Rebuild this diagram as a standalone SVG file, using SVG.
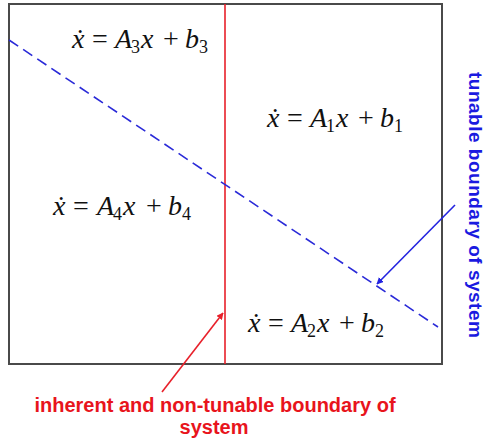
<svg xmlns="http://www.w3.org/2000/svg" width="488" height="445" viewBox="0 0 488 445">
<style>
.eq{font-family:"Liberation Serif","Times New Roman",serif;font-size:28px;fill:#111}
.it{font-style:italic}
.sub{font-size:18px;font-style:normal}
.lab{font-family:"Liberation Sans",Arial,sans-serif;font-weight:bold;font-size:20px}
</style>
<defs>
<marker id="ah-red" viewBox="0 0 10 10" refX="9" refY="5" markerWidth="7" markerHeight="7" orient="auto" markerUnits="userSpaceOnUse">
<path d="M0,0 L10,5 L0,10 z" fill="#e8202a"/>
</marker>
<marker id="ah-blue" viewBox="0 0 10 10" refX="9" refY="5" markerWidth="7" markerHeight="7" orient="auto" markerUnits="userSpaceOnUse">
<path d="M0,0 L10,5 L0,10 z" fill="#2323e0"/>
</marker>
</defs>
<rect width="488" height="445" fill="#fff"/>
<g id="frame">
<rect x="9" y="4" width="433" height="360" fill="none" stroke="#4a4a4a" stroke-width="2"/>
</g>
<g id="connectors">
<line x1="225" y1="4" x2="225" y2="364" stroke="#e8202a" stroke-width="1.6"/>
<line x1="9" y1="40" x2="438" y2="327" stroke="#2a2ad8" stroke-width="1.6" stroke-dasharray="11,6"/>
<line x1="162" y1="392" x2="223" y2="313" stroke="#e8202a" stroke-width="1.6" marker-end="url(#ah-red)"/>
<line x1="455" y1="205" x2="377" y2="284" stroke="#2323e0" stroke-width="1.6" marker-end="url(#ah-blue)"/>
</g>
<g id="region3">
<text class="eq" y="48"><tspan class="it" x="72">ẋ</tspan><tspan x="92">=</tspan><tspan class="it" x="115">A</tspan><tspan class="sub" dx="-1" dy="5">3</tspan><tspan class="it" dx="1" dy="-5">x</tspan><tspan x="163">+</tspan><tspan class="it" x="185">b</tspan><tspan class="sub" dy="5">3</tspan></text>
</g>
<g id="region1">
<text class="eq" y="127"><tspan class="it" x="267">ẋ</tspan><tspan x="287">=</tspan><tspan class="it" x="310">A</tspan><tspan class="sub" dx="-1" dy="5">1</tspan><tspan class="it" dx="1" dy="-5">x</tspan><tspan x="358">+</tspan><tspan class="it" x="380">b</tspan><tspan class="sub" dy="5">1</tspan></text>
</g>
<g id="region4">
<text class="eq" y="215"><tspan class="it" x="53">ẋ</tspan><tspan x="73">=</tspan><tspan class="it" x="97">A</tspan><tspan class="sub" dx="-1" dy="5">4</tspan><tspan class="it" dx="1" dy="-5">x</tspan><tspan x="146">+</tspan><tspan class="it" x="168">b</tspan><tspan class="sub" dy="5">4</tspan></text>
</g>
<g id="region2">
<text class="eq" y="332"><tspan class="it" x="248">ẋ</tspan><tspan x="268">=</tspan><tspan class="it" x="291">A</tspan><tspan class="sub" dx="-1" dy="5">2</tspan><tspan class="it" dx="1" dy="-5">x</tspan><tspan x="339">+</tspan><tspan class="it" x="361">b</tspan><tspan class="sub" dy="5">2</tspan></text>
</g>
<g id="label-red">
<text class="lab" fill="#e8141c" text-anchor="middle"><tspan x="215" y="412">inherent and non-tunable boundary of</tspan><tspan x="214" y="434">system</tspan></text>
</g>
<g id="label-blue">
<text class="lab" fill="#1a1ae0" style="font-size:19px;letter-spacing:0.5px" transform="translate(469,72) rotate(90)">tunable boundary of system</text>
</g>
</svg>
